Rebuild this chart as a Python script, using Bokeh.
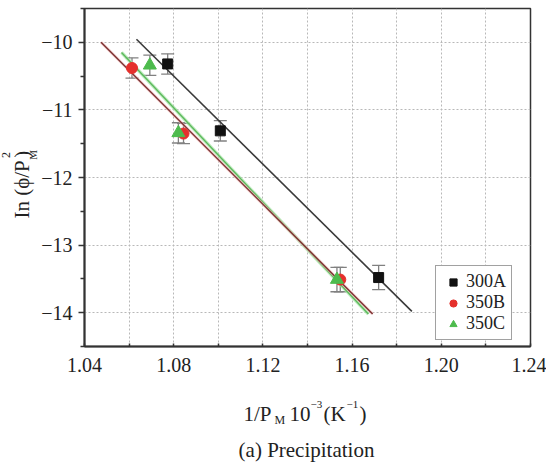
import math
from bokeh.plotting import figure
from bokeh.layouts import row, column
from bokeh.models import (ColumnDataSource, Whisker, TeeHead, FixedTicker, Label,
                          Legend, LegendItem, Range1d)
from bokeh.embed import file_html
from bokeh.resources import INLINE

# ---------------- data ----------------
x_300A = [1.0773, 1.1009, 1.1719]
y_300A = [-10.32, -11.31, -13.48]
e_300A = [0.15, 0.15, 0.18]

x_350B = [1.0613, 1.0844, 1.1547]
y_350B = [-10.38, -11.35, -13.51]
e_350B = [0.15, 0.15, 0.18]

x_350C = [1.0693, 1.0821, 1.1532]
y_350C = [-10.34, -11.34, -13.51]
e_350C = [0.15, 0.15, 0.18]

fit_300A_x = [1.0633, 1.1868]
fit_300A_y = [-9.955, -13.98]
fit_350B_x = [1.0474, 1.1692]
fit_350B_y = [-10.00, -14.02]
fit_350C_x = [1.0566, 1.1673]
fit_350C_y = [-10.15, -14.02]

series_labels = ["300A", "350B", "350C"]

x_ticks = [1.04, 1.08, 1.12, 1.16, 1.20, 1.24]
x_tick_labels = ["1.04", "1.08", "1.12", "1.16", "1.20", "1.24"]
x_minor = [1.06, 1.10, 1.14, 1.18, 1.22]
y_ticks = [-10, -11, -12, -13, -14]
y_tick_labels = ["\u221210", "\u221211", "\u221212", "\u221213", "\u221214"]
y_minor = [-9.5, -10.5, -11.5, -12.5, -13.5, -14.5]

X_MIN, X_MAX = 1.04, 1.24
Y_MIN, Y_MAX = -14.5, -9.5

FONT = "Liberation Serif"
DARK = "#333333"
TXT = "#222222"

# ---------------- layout sizes ----------------
TOTAL_W, TOTAL_H = 546, 462
YL_W = 38            # strip holding the rotated y label
MAIN_H = 385
BOT_H = TOTAL_H - MAIN_H
MAIN_W = TOTAL_W - YL_W

# ---------------- main figure ----------------
p = figure(width=MAIN_W, height=MAIN_H, x_range=Range1d(X_MIN, X_MAX), y_range=Range1d(Y_MIN, Y_MAX),
           output_backend="svg", toolbar_location=None,
           min_border_left=81 - YL_W, min_border_right=16, min_border_top=8, min_border_bottom=39)
p.background_fill_color = "white"
p.border_fill_color = "white"
p.outline_line_color = DARK
p.outline_line_width = 1.5

p.xaxis.ticker = FixedTicker(ticks=x_ticks, minor_ticks=x_minor)
p.yaxis.ticker = FixedTicker(ticks=y_ticks, minor_ticks=y_minor)
p.xaxis.major_label_overrides = {t: l for t, l in zip(x_ticks, x_tick_labels)}
p.yaxis.major_label_overrides = {t: l for t, l in zip(y_ticks, y_tick_labels)}
for ax in (p.xaxis[0], p.yaxis[0]):
    ax.axis_line_color = DARK
    ax.axis_line_width = 2
    ax.major_tick_line_color = DARK
    ax.minor_tick_line_color = DARK
    ax.major_tick_line_width = 1.5
    ax.minor_tick_line_width = 1.5
    ax.major_label_text_font = FONT
    ax.major_label_text_font_size = "20px"
    ax.major_label_text_color = TXT
p.xaxis.major_tick_in = 3
p.xaxis.major_tick_out = 0
p.xaxis.minor_tick_in = 3
p.xaxis.minor_tick_out = 0
p.xaxis.major_label_standoff = 11
p.yaxis.major_tick_in = 0
p.yaxis.major_tick_out = 6
p.yaxis.minor_tick_in = 0
p.yaxis.minor_tick_out = 4
p.yaxis.major_label_standoff = 6

p.xgrid.ticker = FixedTicker(ticks=x_minor + x_ticks[1:-1])
p.ygrid.ticker = FixedTicker(ticks=y_ticks)
for g in (p.xgrid[0], p.ygrid[0]):
    g.grid_line_color = "#b8b8b8"
    g.grid_line_dash = "2 2"
    g.grid_line_width = 1

# fit lines
p.line(fit_300A_x, fit_300A_y, line_color="#3a3a3a", line_width=1.6)
p.line(fit_350C_x, fit_350C_y, line_color="#a8e6a8", line_width=3.5, line_alpha=0.7)
p.line(fit_350C_x, fit_350C_y, line_color="#5cb85c", line_width=1.4)
p.line(fit_350B_x, fit_350B_y, line_color="#f2b8b8", line_width=3, line_alpha=0.6)
p.line(fit_350B_x, fit_350B_y, line_color="#7a3030", line_width=1.4)

specs = [
    (x_300A, y_300A, e_300A, "square", "#111111", 10),
    (x_350B, y_350B, e_350B, "circle", "#e5302c", 11),
    (x_350C, y_350C, e_350C, "triangle", "#4dbb4d", 13),
]
for xs, ys, es, marker, color, size in specs:
    src = ColumnDataSource(dict(x=xs, upper=[y + e for y, e in zip(ys, es)],
                                lower=[y - e for y, e in zip(ys, es)]))
    p.add_layout(Whisker(source=src, base="x", upper="upper", lower="lower",
                         line_color="#808080", line_width=1.3,
                         upper_head=TeeHead(size=13, line_color="#808080", line_width=1.3),
                         lower_head=TeeHead(size=13, line_color="#808080", line_width=1.3)))
renderers = []
for xs, ys, es, marker, color, size in specs:
    src = ColumnDataSource(dict(x=xs, y=ys))
    renderers.append(p.scatter("x", "y", source=src, marker=marker, size=size,
                               fill_color=color, line_color=color, line_width=1))

legend = Legend(items=[LegendItem(label=l, renderers=[r]) for l, r in zip(series_labels, renderers)],
                location=(351, 6))
legend.margin = 0
legend.label_text_font = FONT
legend.label_text_font_size = "18px"
legend.label_text_color = TXT
legend.glyph_width = 24
legend.glyph_height = 18
legend.label_height = 18
legend.label_standoff = 1
legend.spacing = 0
legend.padding = 5
legend.border_line_color = "#444444"
legend.border_line_width = 1.3
legend.background_fill_color = "white"
legend.background_fill_alpha = 1
p.add_layout(legend)

# ---------------- text strips (pixel coordinates, y downward) ----------------
def strip(w, h):
    f = figure(width=w, height=h, x_range=Range1d(0, w), y_range=Range1d(h, 0),
               x_axis_type=None, y_axis_type=None, output_backend="svg", toolbar_location=None,
               min_border_left=0, min_border_right=0, min_border_top=0, min_border_bottom=0)
    f.outline_line_color = None
    f.background_fill_color = "white"
    f.border_fill_color = "white"
    f.grid.visible = False
    return f

def lab(fig, text, x, y, size, angle=0.0, align="left", baseline="alphabetic"):
    fig.add_layout(Label(x=x, y=y, text=text, text_font=FONT, text_font_size=f"{size}px",
                         text_color=TXT, angle=angle, text_align=align,
                         text_baseline=baseline))

# y label strip: In (phi/P_M^2), reading upward.
# rotated text is drawn about 0.74*size above its anchor, so anchors are set lower
yl = strip(YL_W, MAIN_H)
up = math.pi / 2
def ylab(text, x, yc, size):
    lab(yl, text, x, yc + 0.74 * size, size, angle=up, align="center", baseline="middle")
ylab("In (\u03d5/P", 21, 190.5, 21)
ylab("2", 5.5, 158, 12)
ylab("M", 32, 158.5, 11)
ylab(")", 21, 150.5, 21)

# bottom strip: x label and caption (y measured from top of strip)
bt = strip(TOTAL_W, BOT_H)
o = MAIN_H
lab(bt, "1/P", 243, 413 - o, 21)
lab(bt, "M", 274, 419 - o, 12)
lab(bt, "10", 289, 413 - o, 21)
lab(bt, "\u22123", 310, 404 - o, 11)
lab(bt, "(K", 323, 413 - o, 21)
lab(bt, "\u22121", 346, 404 - o, 11)
lab(bt, ")", 359, 413 - o, 21)
lab(bt, "(a) Precipitation", 306, 449 - o, 21, align="center")

layout = column(row(yl, p, spacing=0), bt, spacing=0)
open("out.html", "w").write(file_html(layout, INLINE))
